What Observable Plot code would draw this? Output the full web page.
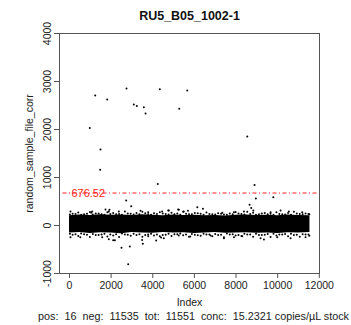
<!DOCTYPE html>
<html>
<head>
<meta charset="utf-8">
<script src="https://cdn.jsdelivr.net/npm/d3@7"></script>
<script src="https://cdn.jsdelivr.net/npm/@observablehq/plot@0.6"></script>
<style>
  html, body { margin: 0; padding: 0; background: #fff; }
  svg { font-family: "Liberation Sans", Arial, sans-serif; }
</style>
</head>
<body>
<div id="chart"></div>
<script>
// ---- data ----
const chartTitle = "RU5_B05_1002-1";
const yLabel = "random_sample_file_corr";
const xLabel = "Index";
const summary = "pos:  16  neg:  11535  tot:  11551  conc:  15.2321 copies/\u00b5L stock";
const threshold = 676.52;

const xTicks = [0, 2000, 4000, 6000, 8000, 10000, 12000];
const yTicks = [-1000, 0, 1000, 2000, 3000, 4000];

// positive droplets (above threshold)
const posIndex = [1235, 1812, 2739, 4340, 5657, 3090, 3234, 3571, 3653, 5272, 976, 1490, 1475, 4244, 8540, 8891];
const posValue = [2709, 2626, 2856, 2841, 2814, 2521, 2492, 2465, 2333, 2430, 2033, 1581, 1164, 863, 1853, 842];

// dense negative band: envelope of the solid black core
const bandIndex = [1, 500, 1000, 1500, 2000, 2500, 3000, 3500, 4000, 4500, 5000, 5500, 6000, 6500, 7000, 7500, 8000, 8500, 9000, 9500, 10000, 10500, 11000, 11551];
const bandUpper = [205, 220, 210, 225, 215, 220, 210, 225, 215, 205, 220, 210, 215, 205, 210, 200, 215, 220, 210, 215, 205, 220, 210, 205];
const bandLower = [-155, -145, -165, -150, -155, -170, -145, -155, -160, -145, -155, -150, -165, -155, -145, -160, -155, -150, -160, -155, -165, -150, -155, -145];

// scattered negative droplets around the band
const strayIndex = [48, 1090, 1730, 1890, 2370, 3410, 3780, 4450, 4770, 5220, 5490, 5690, 6140, 6410, 7340, 7900, 8380, 8650, 8730, 8830, 9660, 10140, 10540, 11180, 1043, 1920, 2965, 2725, 8954, 9790, 4745, 5255,
  48, 520, 1570, 1890, 2100, 2180, 2499, 2898, 2821, 3490, 3522, 3780, 4165, 4400, 4530, 5250, 5800, 6780, 7420, 7900, 8300, 9180, 9340, 9980, 10620, 11340];
const strayValue = [292, 292, 334, 292, 292, 306, 278, 292, 313, 334, 292, 307, 382, 348, 265, 278, 292, 432, 362, 313, 278, 313, 292, 278, 265, 328, 403, 522, 564, 591, 313, 328,
  -244, -244, -244, -286, -307, -307, -466, -439, -808, -300, -382, -223, -313, -250, -265, -209, -230, -209, -265, -244, -223, -265, -292, -244, -265, -244];

// ragged fringe at the edges of the band (two loose rows each side)
const fringeIndex = [150, 420, 700, 980, 1260, 1540, 1820, 2100, 2380, 2660, 2940, 3220, 3500, 3780, 4060, 4340, 4620, 4900, 5180, 5460, 5740, 6020, 6300, 6580, 6860, 7140, 7420, 7700, 7980, 8260, 8540, 8820, 9100, 9380, 9660, 9940, 10220, 10500, 10780, 11060, 11340, 11520];
const fringeUpper = [245, 270, 232, 282, 250, 236, 275, 258, 240, 290, 244, 262, 285, 234, 256, 278, 238, 266, 248, 288, 232, 260, 244, 272, 236, 256, 230, 250, 280, 242, 286, 266, 236, 258, 246, 276, 234, 262, 284, 240, 252, 232];
const fringeLower = [-195, -220, -182, -238, -200, -188, -228, -206, -242, -186, -214, -196, -236, -188, -208, -226, -192, -218, -184, -204, -236, -194, -212, -186, -226, -200, -244, -190, -210, -218, -188, -232, -200, -194, -240, -206, -186, -222, -196, -234, -190, -212];
const fringe2Index = [20, 290, 560, 840, 1120, 1400, 1680, 1960, 2240, 2520, 2800, 3080, 3360, 3640, 3920, 4200, 4480, 4760, 5040, 5320, 5600, 5880, 6160, 6440, 6720, 7000, 7280, 7560, 7840, 8120, 8400, 8680, 8960, 9240, 9520, 9800, 10080, 10360, 10640, 10920, 11200, 11480];
const fringe2Upper = [228, 238, 222, 246, 230, 252, 226, 240, 234, 222, 248, 230, 236, 256, 224, 240, 250, 228, 236, 224, 244, 232, 254, 226, 240, 230, 246, 222, 236, 250, 228, 240, 226, 252, 232, 224, 242, 230, 226, 248, 234, 240];
const fringe2Lower = [-172, -184, -168, -192, -176, -198, -170, -186, -180, -166, -194, -174, -182, -200, -170, -188, -196, -172, -182, -168, -190, -178, -202, -172, -186, -176, -192, -168, -182, -196, -174, -186, -170, -198, -178, -170, -188, -176, -172, -194, -180, -186];

// ---- tables built from the arrays ----
const band = bandIndex.map((i, k) => ({i, hi: bandUpper[k], lo: bandLower[k]}));
const pts = [
  ...posIndex.map((i, k) => ({i, v: posValue[k]})),
  ...strayIndex.map((i, k) => ({i, v: strayValue[k]})),
  ...fringeIndex.map((i, k) => ({i, v: fringeUpper[k]})),
  ...fringeIndex.map((i, k) => ({i, v: fringeLower[k]})),
  ...fringe2Index.map((i, k) => ({i, v: fringe2Upper[k]})),
  ...fringe2Index.map((i, k) => ({i, v: fringe2Lower[k]}))
];

const textColor = "#222";
const lineColor = "#555";

const chart = Plot.plot({
  width: 351,
  height: 325,
  marginLeft: 59,
  marginRight: 32,
  marginTop: 33,
  marginBottom: 52,
  style: {fontFamily: "'Liberation Sans', Arial, sans-serif", background: "#fff", color: textColor},
  x: {domain: [-480, 12010]},
  y: {domain: [-1000, 4000]},
  marks: [
    Plot.areaY(band, {x: "i", y1: "lo", y2: "hi", fill: "#000"}),
    Plot.dot(pts, {x: "i", y: "v", r: 1, fill: "#000", stroke: "none"}),
    Plot.ruleY([threshold], {stroke: "#ff2020", strokeWidth: 1, strokeDasharray: "1,2.5,4,2.5"}),
    Plot.text([threshold], {x: 900, y: d => d, text: d => d.toFixed(2), fill: "#ff2020", fontSize: 11, textAnchor: "middle", lineAnchor: "middle"}),
    Plot.frame({stroke: lineColor}),
    Plot.axisX({ticks: xTicks, tickFormat: d => String(d), tickSize: 5, tickPadding: 3, fontSize: 10.5, stroke: lineColor, fill: textColor,
      label: xLabel, labelAnchor: "center", labelArrow: "none", labelOffset: 32}),
    Plot.axisY({ticks: yTicks, tickFormat: d => String(d), tickSize: 5, tickPadding: 4, tickRotate: -90, fontSize: 10.5, stroke: lineColor, fill: textColor,
      label: yLabel, labelAnchor: "center", labelArrow: "none", labelOffset: 34}),
    Plot.text([chartTitle], {frameAnchor: "top", dy: -18, text: d => d, fontWeight: "bold", fontSize: 12.5, fill: "#111", lineAnchor: "middle"}),
    Plot.text([summary], {frameAnchor: "bottom", dy: 43, dx: 4, text: d => d, fontSize: 10.8, fill: textColor, lineAnchor: "middle"})
  ]
});
document.getElementById("chart").appendChild(chart);
</script>
</body>
</html>
